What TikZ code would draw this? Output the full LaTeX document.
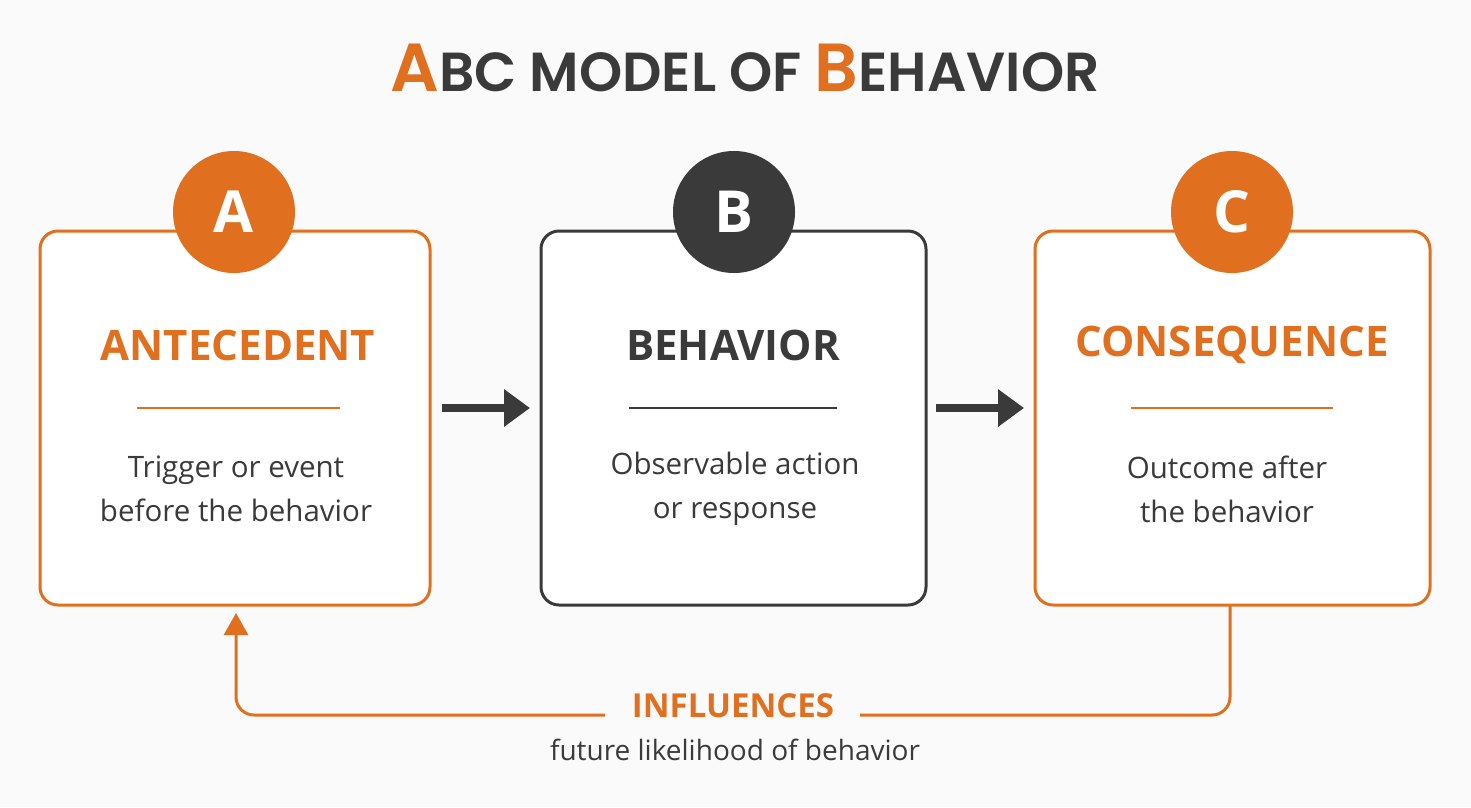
\documentclass[tikz,border=0pt]{standalone}
\usepackage{fontspec}
\setmainfont{Open Sans}[BoldFont=* Bold]
\newfontfamily\ttl{Poppins}[UprightFont=* SemiBold]
\usetikzlibrary{arrows.meta}
\definecolor{org}{HTML}{E0701F}
\definecolor{drk}{HTML}{3A3A3A}
\definecolor{bg}{HTML}{FAFAFA}
\begin{document}
\begin{tikzpicture}[x=1pt,y=-1pt,
 box/.style={draw=#1,line width=3pt,rounded corners=18pt,fill=white},
 circ/.style={circle,fill=#1,minimum size=122pt,inner sep=0pt,text=white,font=\fontsize{58}{60}\selectfont\bfseries},
 head/.style={text=#1,font=\fontsize{42}{46}\selectfont\bfseries},
 body/.style={text=drk,font=\fontsize{29.5}{44}\selectfont,align=center},
 rule/.style={draw=#1,line width=2.5pt},
 flow/.style={draw=drk,line width=8pt,-{Triangle[length=26pt,width=36pt]}},
 fb/.style={draw=org,line width=3pt,rounded corners=18pt}]
\fill[bg] (0,0) rectangle (1471,807);
\useasboundingbox (0,0) rectangle (1471,807);
\node[text=drk,font=\ttl\fontsize{55}{60}\selectfont] (title) at (745,68)
 {{\color{org}\fontsize{68}{70}\selectfont A}BC MODEL OF {\color{org}\fontsize{68}{70}\selectfont B}EHAVIOR};
\draw[box=org] (40,231) rectangle (430,605);
\draw[box=drk] (541,231) rectangle (926,605);
\draw[box=org] (1035,231) rectangle (1430,605);
\node[circ=org] (ca) at (234,212) {A};
\node[circ=drk] (cb) at (734,212) {B};
\node[circ=org] (cc) at (1232,212) {C};
\node[head=org] (ha) at (238,345) {ANTECEDENT};
\node[head=drk] (hb) at (733,345) {BEHAVIOR};
\node[head=org] (hc) at (1232,345) {CONSEQUENCE};
\draw[rule=org] (137,408) -- (340,408);
\draw[rule=drk] (629,408) -- (837,408);
\draw[rule=org] (1131,408) -- (1333,408);
\node[body] (ta) at (236,489) {Trigger or event\\before the behavior};
\node[body] (tb) at (735,489) {Observable action\\or response};
\node[body] (tc) at (1227,489) {Outcome after\\the behavior};
\coordinate (a1) at (442,408); \coordinate (a2) at (530,408);
\coordinate (b1) at (936,408); \coordinate (b2) at (1024,408);
\draw[flow] (a1) -- (a2);
\draw[flow] (b1) -- (b2);
\node[text=org,font=\fontsize{33}{36}\selectfont\bfseries] (inf) at (733,706) {INFLUENCES};
\node[text=drk,font=\fontsize{28}{30}\selectfont] (fl) at (735,750) {future likelihood of behavior};
\coordinate (c0) at (1230,606);
\coordinate (a0) at (236,613);
\draw[fb] (c0) -- (1230,715) -- (860,715);
\draw[fb,-{Triangle[length=22pt,width=24pt]}] (605,715) -- (236,715) -- (a0);
\end{tikzpicture}
\end{document}
